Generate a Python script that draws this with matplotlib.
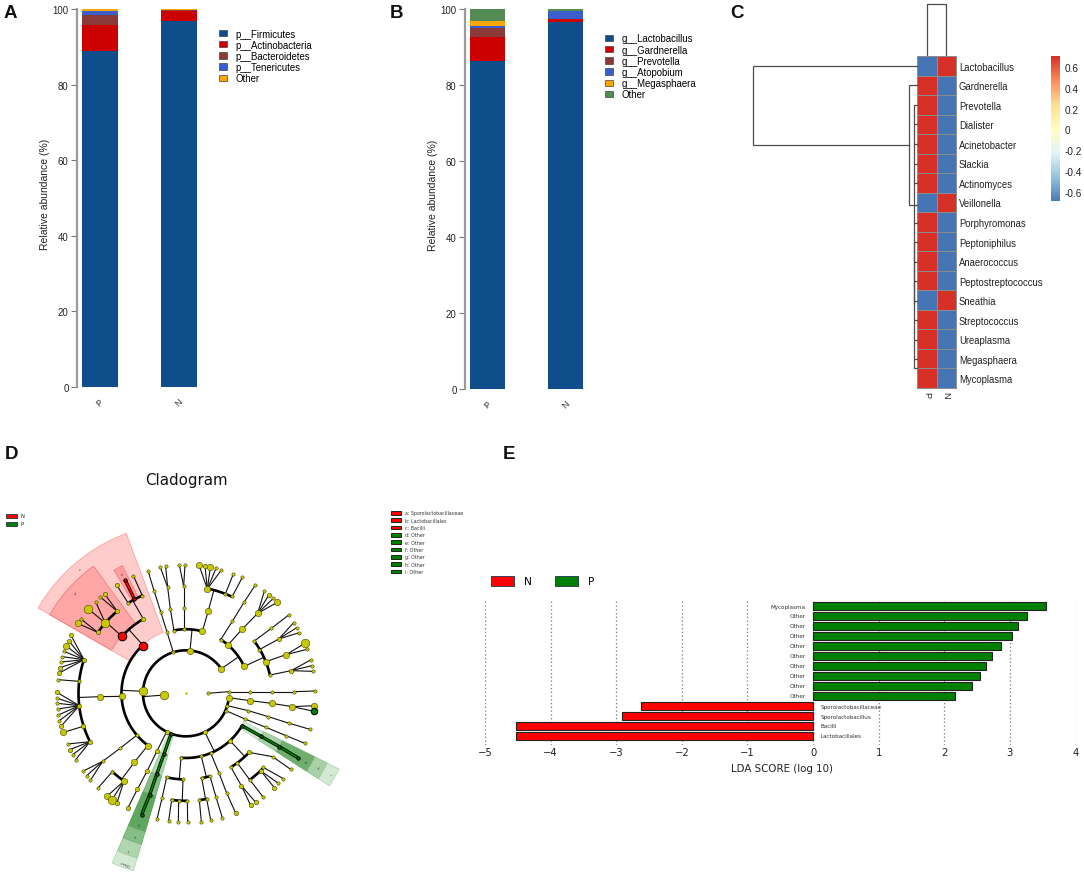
import math
import matplotlib
matplotlib.use("Agg")
import matplotlib.pyplot as plt
from matplotlib.colors import LinearSegmentedColormap
from matplotlib.patches import Patch, Rectangle

# ---------------- data ----------------
groups = ["P", "N"]
phylum_names = ["p__Firmicutes", "p__Actinobacteria", "p__Bacteroidetes", "p__Tenericutes", "Other"]
phylum_P = [89.0, 6.8, 2.7, 1.1, 0.4]
phylum_N = [96.7, 2.9, 0.05, 0.05, 0.3]
genus_names = ["g__Lactobacillus", "g__Gardnerella", "g__Prevotella", "g__Atopobium", "g__Megasphaera", "Other"]
genus_P = [86.3, 6.4, 2.3, 0.4, 1.35, 3.25]
genus_N = [96.5, 0.8, 0.05, 2.05, 0.05, 0.55]
stack_colors_A = ["#104E8B", "#CD0000", "#8B3A3A", "#3A5FCD", "#FFA500"]
stack_colors_B = ["#104E8B", "#CD0000", "#8B3A3A", "#3A5FCD", "#FFA500", "#548B54"]

heat_rows = ["Lactobacillus", "Gardnerella", "Prevotella", "Dialister", "Acinetobacter", "Slackia",
             "Actinomyces", "Veillonella", "Porphyromonas", "Peptoniphilus", "Anaerococcus",
             "Peptostreptococcus", "Sneathia", "Streptococcus", "Ureaplasma", "Megasphaera", "Mycoplasma"]
heat_P = [-0.707, 0.707, 0.707, 0.707, 0.707, 0.707, 0.707, -0.707, 0.707, 0.707, 0.707, 0.707,
          -0.707, 0.707, 0.707, 0.707, 0.707]
heat_N = [-v for v in heat_P]
cbar_ticks = [0.6, 0.4, 0.2, 0, -0.2, -0.4, -0.6]

lda_names = ["Lactobacillales", "Bacilli", "Sporolactobacillus", "Sporolactobacillaceae", "Other", "Other",
             "Other", "Other", "Other", "Other", "Other", "Other", "Other", "Mycoplasma"]
lda_scores = [-4.53, -4.53, -2.91, -2.62, 2.17, 2.42, 2.54, 2.63, 2.73, 2.86, 3.03, 3.12, 3.26, 3.55]

clade_left = ["N", "P"]
clade_right = ["a: Sporolactobacillaceae", "b: Lactobacillales", "c: Bacilli", "d: Other", "e: Other",
               "f: Other", "g: Other", "h: Other", "i: Other"]
clade_right_cols = ["r", "r", "r", "g", "g", "g", "g", "g", "g"]

# heat-map dendrogram (x, y pairs)
dend_left = [[(590, 200), (100, 200), (100, 437), (568, 437)],
             [(590, 258), (568, 258), (568, 618), (590, 618)],
             [(590, 318), (582, 318), (582, 1108), (590, 1108)],
             [(590, 376), (582, 376)], [(590, 435), (582, 435)], [(590, 494), (582, 494)], [(590, 553), (582, 553)],
             [(590, 671), (582, 671)], [(590, 730), (582, 730), (582, 915)],
             [(590, 789), (582, 789)], [(590, 847), (582, 847)], [(590, 905), (582, 905)],
             [(590, 964), (584, 964)], [(590, 1022), (584, 1022)], [(590, 1081), (584, 1081)]]
dend_top = [(620, 170), (620, 14), (678, 14), (678, 170)]


def N(x, y, s=0, c="y", kids=()):
    return dict(x=x, y=y, s=s, c=c, kids=list(kids))


def fan(x, y, s, pts):
    return N(x, y, s, "y", [N(a, b, t) for a, b, t in pts])


clade_tree = [
    N(493, 768, 3, "y", [
        N(663, 690, 2, "y", [
            N(733, 682, 2, "y", [
                N(810, 708, 0, "y", [fan(873, 695, 1, [(932, 663, 0), (936, 680, 0), (940, 697, 0)])]),
                N(798, 668, 2, "y", [fan(858, 647, 2, [(921, 631, 0), (915, 613, 3)])]),
                N(778, 632, 0, "y", [fan(836, 600, 1, [(898, 581, 0), (890, 566, 0), (881, 551, 0)])]),
                N(763, 606, 0, "y", [fan(814, 568, 0, [(866, 528, 0)])]),
            ]),
            N(684, 618, 2, "y", [N(727, 570, 2, "y", [fan(773, 523, 2, [(832, 490, 2), (820, 478, 0), (807, 467, 1), (793, 456, 0)])])]),
            N(662, 602, 0, "y", [N(697, 547, 0, "y", [fan(732, 490, 0, [(766, 438, 0)])])]),
        ]),
        N(570, 636, 2, "y", [
            N(607, 577, 2, "y", [N(625, 515, 2, "y", [
                fan(697, 472, 0, [(727, 415, 0)]),
                fan(676, 465, 0, [(700, 405, 0)]),
                fan(622, 450, 2, [(664, 393, 0), (648, 388, 0), (631, 385, 2), (615, 382, 1), (597, 378, 2)]),
            ])]),
            N(551, 570, 0, "y", [N(551, 507, 0, "y", [fan(551, 441, 0, [(555, 378, 0), (538, 378, 0)])])]),
            N(522, 575, 0, "y", [N(511, 510, 0, "y", [fan(503, 445, 0, [(497, 382, 0), (481, 385, 0)])])]),
        ]),
        N(520, 640, 0, "y", [N(501, 579, 0, "y", [N(482, 518, 0, "y", [fan(462, 455, 0, [(444, 395, 0)])])])]),
        N(430, 757, 3, "y", [
            N(430, 620, 3, "r", [
                N(430, 540, 1, "y", [
                    fan(427, 470, 0, [(400, 410, 0)]),
                    N(403, 480, 0, "r", [N(375, 422, 0, "r")]),
                    fan(385, 493, 0, [(350, 438, 1)]),
                ]),
                N(366, 592, 3, "r", [
                    fan(352, 517, 1, [(314, 465, 1), (301, 474, 0)]),
                    fan(316, 552, 3, [(287, 489, 0), (265, 510, 3)]),
                    fan(293, 580, 1, [(243, 540, 0), (233, 553, 2)]),
                ]),
            ]),
            N(365, 772, 2, "y", [N(300, 773, 2, "y", [
                fan(252, 662, 1, [(213, 589, 1), (206, 605, 1), (199, 621, 2), (192, 637, 0), (187, 653, 0), (184, 669, 0), (180, 686, 1), (176, 703, 1)]),
                fan(238, 727, 0, [(174, 722, 0)]),
                fan(238, 800, 1, [(171, 760, 1), (170, 777, 0), (172, 793, 0), (173, 810, 0), (175, 828, 0), (178, 845, 0), (183, 862, 1)]),
                fan(250, 862, 1, [(190, 880, 2)]),
                fan(270, 908, 1, [(203, 915, 0), (209, 932, 1), (218, 947, 0), (227, 962, 0)]),
            ])]),
            N(410, 889, 0, "y", [N(360, 928, 0, "y", [fan(308, 967, 0, [(250, 996, 0), (260, 1010, 0), (271, 1024, 0)])])]),
            N(443, 920, 2, "y", [N(403, 970, 2, "y", [
                fan(337, 998, 0, [(294, 1047, 0)]),
                fan(372, 1026, 2, [(322, 1071, 2), (336, 1082, 3), (351, 1091, 1)]),
            ])]),
        ]),
        N(500, 878, 1, "y", [N(471, 936, 1, "y", [N(442, 995, 1, "y", [fan(412, 1051, 1, [(383, 1108, 1)])])])]),
        N(513, 885, 0, "g", [N(492, 945, 0, "g", [N(470, 1006, 0, "g", [N(449, 1067, 0, "g", [N(425, 1127, 0, "g")])])])]),
        N(615, 880, 1, "y", [
            N(543, 956, 0, "y", [
                N(500, 1015, 0, "y", [fan(486, 1078, 0, [(471, 1140, 0)])]),
                N(549, 1021, 0, "y", [
                    fan(515, 1083, 0, [(506, 1145, 0)]),
                    fan(536, 1085, 0, [(535, 1150, 0)]),
                    fan(562, 1085, 0, [(563, 1150, 0)]),
                ]),
            ]),
            N(604, 952, 0, "y", [
                N(605, 1017, 0, "y", [fan(598, 1083, 0, [(604, 1148, 0)]), fan(620, 1080, 0, [(632, 1143, 0)])]),
                N(630, 1012, 0, "y", [fan(648, 1074, 0, [(667, 1136, 0)])]),
            ]),
            N(632, 942, 0, "y", [N(657, 1002, 0, "y", [fan(680, 1062, 0, [(707, 1122, 1)])])]),
            N(690, 905, 1, "y", [
                N(693, 985, 0, "y", [fan(724, 1040, 1, [(752, 1099, 1), (767, 1090, 1)])]),
                N(712, 972, 0, "y", [
                    fan(750, 1023, 0, [(790, 1075, 0)]),
                    fan(782, 995, 1, [(823, 1046, 1), (835, 1033, 0)]),
                    fan(790, 985, 0, [(850, 1019, 0)]),
                ]),
                N(746, 940, 1, "y", [fan(818, 953, 0, [(872, 991, 0)])]),
            ]),
            N(726, 860, 0, "g", [N(783, 892, 0, "g", [N(838, 923, 0, "g", [N(893, 956, 0, "g")])])]),
        ]),
        N(678, 815, 0, "y", [N(735, 840, 0, "y", [N(798, 865, 0, "y", [fan(858, 890, 0, [(915, 913, 0)])])])]),
        N(682, 800, 0, "y", [N(745, 815, 0, "y", [N(805, 833, 0, "y", [fan(868, 853, 0, [(930, 871, 0)])])])]),
        N(686, 776, 2, "y", [N(751, 785, 2, "y", [N(815, 793, 2, "y", [fan(877, 803, 2, [(942, 800, 2)]) ])])]),
    ]),
    N(623, 763, 0, "y", [N(686, 758, 0, "y", [N(751, 758, 0, "y", [N(816, 758, 0, "y", [fan(881, 758, 0, [(945, 756, 0)])])])])]),
]
extra_green_leaf = (942, 817)
clade_centre = (558, 763)

# sectors: (inner radius, outer radius, start angle, end angle, colour)
sectors_red = [(195, 512, 110.5, 150, "#FFCCCC", "#FF9F9F"),
               (258, 472, 126, 150, "#FFA6A6", "#F07C7C"),
               (322, 428, 116.5, 120.3, "#FF9C9C", "#F08080")]
sectors_green = [(130, 555, 246.5, 253.5, "#D4E9D4", "#B5D8B5"),
                 (193, 515, 246.5, 253.5, "#AFD6AF", "#98C898"),
                 (258, 472, 246.5, 253.5, "#85BE85", "#78B078"),
                 (322, 432, 246.5, 253.5, "#5FA65F", "#5FA65F"),
                 (193, 512, 327.2, 333.7, "#D4E9D4", "#B5D8B5"),
                 (258, 472, 327.2, 333.7, "#A6D0A6", "#98C898"),
                 (322, 430, 327.2, 333.7, "#70AE70", "#70AE70")]
sector_labels = [("c", 238, 390, -38), ("b", 224, 463, -38), ("a", 364, 405, -28),
                 ("Other", 377, 1270, 160), ("f", 388, 1228, 160), ("e", 405, 1188, 160), ("d", 418, 1150, 160),
                 ("i", 990, 1005, -60), ("h", 952, 985, -60), ("g", 915, 965, -60)]

# ---------------- layout ----------------
W, H = 1084, 878
plt.rcParams["font.family"] = ["Liberation Sans", "DejaVu Sans"]
fig = plt.figure(figsize=(W / 100, H / 100), dpi=100)


def rect(x0, y0, x1, y1):
    return [x0 / W, 1 - y1 / H, (x1 - x0) / W, (y1 - y0) / H]


def stacked(box, c0, c1, width, series_p, series_n, names, colors, legend_xy, label_x):
    ax = fig.add_axes(rect(*box))
    scale = c1 - c0
    ax.set_xlim((box[0] - c0) / scale, (box[2] - c0) / scale)
    ax.set_ylim(0, 100)
    bp = bn = 0
    for p, n, col in zip(series_p, series_n, colors):
        ax.bar([0, 1], [p, n], bottom=[bp, bn], width=width / scale, color=col, linewidth=0)
        bp += p
        bn += n
    for s in ("top", "right", "bottom"):
        ax.spines[s].set_visible(False)
    ax.spines["left"].set_color("#9A9A9A")
    ax.spines["left"].set_linewidth(1.6)
    ax.set_yticks([0, 20, 40, 60, 80, 100])
    ax.tick_params(axis="y", length=4, width=0.8, color="#777777", labelsize=6.9, labelcolor="#222222", pad=2)
    ax.set_xticks([0, 1])
    ax.set_xticklabels(groups, rotation=45, fontsize=6.5, color="#333333", ha="center")
    ax.tick_params(axis="x", length=0, pad=7)
    ax.set_ylabel("Relative abundance (%)", fontsize=7.5, color="#222222", labelpad=0)
    ax.yaxis.set_label_coords((label_x - box[0]) / (box[2] - box[0]), 0.513)
    handles = [Patch(facecolor=c, edgecolor="#444444", linewidth=0.5) for c in colors]
    ax.legend(handles, names, loc="upper left", frameon=False, fontsize=6.9,
              bbox_to_anchor=(legend_xy[0] / W, 1 - legend_xy[1] / H), bbox_transform=fig.transFigure,
              borderaxespad=0, borderpad=0, handlelength=0.85, handleheight=0.65, handletextpad=0.9,
              labelspacing=0.12)
    return ax


stacked((77, 10, 215, 388), 100, 179, 36, phylum_P, phylum_N, phylum_names, stack_colors_A, (218.5, 29.5), 50)
stacked((465, 10, 600, 390), 487.5, 565.5, 35, genus_P, genus_N, genus_names, stack_colors_B, (604.5, 34.5), 438)

# ---------- panel C ----------
cmap = LinearSegmentedColormap.from_list("rb", ["#4575B4", "#91BFDB", "#E0F3F8", "#FFFFBF", "#FEE090", "#FC8D59", "#D73027"])
axh = fig.add_axes(rect(917, 57, 956, 389))
axh.pcolormesh([[p, n] for p, n in zip(heat_P, heat_N)], cmap=cmap, vmin=-0.707, vmax=0.707,
               edgecolors="#8C8C8C", linewidth=0.7)
axh.set_ylim(len(heat_rows), 0)
axh.set_xticks([0.5, 1.5])
axh.set_xticklabels(groups, rotation=270, fontsize=6.6, color="#222222")
axh.yaxis.tick_right()
axh.set_yticks([i + 0.5 for i in range(len(heat_rows))])
axh.set_yticklabels(heat_rows, fontsize=6.85, color="#222222")
axh.tick_params(length=0, pad=2)
for s in axh.spines.values():
    s.set_color("#8C8C8C")
    s.set_linewidth(0.7)

axd = fig.add_axes(rect(720, 0, 917, 389))
axd.set_xlim(0, 591)
axd.set_ylim(1167, 0)
axd.axis("off")
for seg_pts in dend_left:
    axd.plot([p[0] for p in seg_pts], [p[1] for p in seg_pts], color="#4D4D4D", lw=0.9, solid_joinstyle="miter", clip_on=False)
axt = fig.add_axes(rect(917, 0, 956, 57))
axt.set_xlim(590, 707)
axt.set_ylim(171, 0)
axt.axis("off")
axt.plot([p[0] for p in dend_top], [p[1] for p in dend_top], color="#4D4D4D", lw=0.9)

axc = fig.add_axes(rect(1051, 57, 1060, 202))
grad = [[-0.687 + i * (0.705 + 0.687) / 199] for i in range(200)]
axc.pcolormesh([0, 1], [-0.687 + i * (0.705 + 0.687) / 200 for i in range(201)], grad, cmap=cmap, vmin=-0.707, vmax=0.707)
axc.set_ylim(-0.687, 0.705)
axc.set_xticks([])
axc.yaxis.tick_right()
axc.set_yticks(cbar_ticks)
axc.set_yticklabels([str(t) for t in cbar_ticks], fontsize=7.2, color="#222222")
axc.tick_params(length=0, pad=3)
for s in axc.spines.values():
    s.set_visible(False)

# ---------- panel D ----------
axk = fig.add_axes(rect(0, 440, 480, 878))
axk.set_xlim(0, 1440)
axk.set_ylim(1314, 0)
axk.axis("off")
cx, cy = clade_centre
NODE_DIAM = {0: 2.4, 1: 3.2, 2: 4.6, 3: 6.2}
NODE_COL = {"y": "#C8C800", "r": "#FF0000", "g": "#008000"}


def polar(r, a):
    return cx + r * math.cos(math.radians(a)), cy - r * math.sin(math.radians(a))


def rad(n):
    return math.hypot(n["x"] - cx, n["y"] - cy)


def ang(n):
    return math.degrees(math.atan2(cy - n["y"], n["x"] - cx))


def sector(r0, r1, a0, a1, col, edge):
    steps = [a0 + (a1 - a0) * i / 60 for i in range(61)]
    pts = [polar(r1, a) for a in steps] + [polar(r0, a) for a in reversed(steps)]
    axk.fill([p[0] for p in pts], [p[1] for p in pts], facecolor=col, edgecolor=edge, lw=0.6, zorder=1)


for s in sectors_red + sectors_green:
    sector(*s)


def seg(a, b, col):
    if col == "y":
        axk.plot([a[0], b[0]], [a[1], b[1]], color="#111111", lw=0.8, zorder=2, solid_capstyle="round")
    else:
        axk.plot([a[0], b[0]], [a[1], b[1]], color="black", lw=2.4, zorder=2.3, solid_capstyle="butt")
        axk.plot([a[0], b[0]], [a[1], b[1]], color=NODE_COL[col], lw=1.3, zorder=2.4, solid_capstyle="butt")


def draw(n):
    axk.plot(n["x"], n["y"], "o", ms=NODE_DIAM[n["s"]], mfc=NODE_COL[n["c"]], mec="#333300" if n["c"] == "y" else "black",
             mew=0.35 if n["c"] == "y" else 0.7, zorder=3)
    kids = n["kids"]
    if not kids:
        return
    if len(kids) > 1 and any(k["kids"] for k in kids):
        rr = sum(rad(k) for k in kids) / len(kids)
        angs = [ang(kids[0])]
        for k in kids[1:]:
            angs.append(angs[-1] + (ang(k) - angs[-1] + 180) % 360 - 180)
        steps = [angs[0] + (angs[-1] - angs[0]) * i / 120 for i in range(121)]
        pts = [polar(rr, a) for a in steps]
        axk.plot([p[0] for p in pts], [p[1] for p in pts], color="black", lw=1.9, zorder=2.1, solid_capstyle="round")
        seg((n["x"], n["y"]), polar(rr, ang(n)), "y")
    else:
        for k in kids:
            col = k["c"] if n["c"] == k["c"] and k["c"] != "y" else ("r" if (k["c"] == "r" and not k["kids"]) else "y")
            seg((n["x"], n["y"]), (k["x"], k["y"]), col)
    for k in kids:
        draw(k)


axk.plot(cx, cy, "o", ms=1.0, mfc=NODE_COL["y"], mec=NODE_COL["y"], zorder=3)
for t in clade_tree:
    draw(t)
axk.plot(*extra_green_leaf, "o", ms=4.6, mfc=NODE_COL["g"], mec="black", mew=0.8, zorder=3)
axk.plot([877, extra_green_leaf[0]], [803, extra_green_leaf[1]], color="#111111", lw=0.8, zorder=2)

for txt, x, y, rot in sector_labels:
    axk.text(x, y, txt, fontsize=2.8, rotation=rot, ha="center", va="center", color="#444444", family="DejaVu Sans", zorder=4)

axk.text(558, 123, "Cladogram", fontsize=10.8, ha="center", va="center", family="DejaVu Sans", color="#111111")
for i, name in enumerate(clade_left):
    y = 230 + 24 * i
    axk.add_patch(Rectangle((17, y - 6), 33, 12, facecolor=NODE_COL["r" if i == 0 else "g"], edgecolor="#334455", lw=0.7))
    axk.text(62, y, name, fontsize=3.8, va="center", family="DejaVu Sans", color="#222222")
for i, (name, c) in enumerate(zip(clade_right, clade_right_cols)):
    y = 222 + 21.9 * i
    axk.add_patch(Rectangle((1174, y - 5.5), 29, 11, facecolor=NODE_COL[c], edgecolor="#222222", lw=0.7))
    axk.text(1215, y, name, fontsize=3.4, va="center", family="DejaVu Sans", color="#333333")

# ---------- panel E ----------
axe = fig.add_axes(rect(485, 601, 1075.5, 746))
axe.set_xlim(-5, 4)
axe.set_ylim(-0.9, len(lda_scores) - 0.4)
axe.set_axisbelow(True)
axe.xaxis.grid(True, ls=(0, (1, 2)), color="#777777", lw=0.9)
axe.barh(range(len(lda_scores)), lda_scores, height=0.84, color=["#FF0000" if v < 0 else "#008000" for v in lda_scores],
         edgecolor="#222222", linewidth=0.8)
for i, (name, v) in enumerate(zip(lda_names, lda_scores)):
    if v > 0:
        axe.text(-0.11, i, name, ha="right", va="center", fontsize=4.1, family="DejaVu Sans", color="#333333")
    else:
        axe.text(0.12, i, name, ha="left", va="center", fontsize=4.1, family="DejaVu Sans", color="#333333")
for s in axe.spines.values():
    s.set_visible(False)
axe.set_yticks([])
axe.set_xticks(range(-5, 5))
axe.set_xticklabels(["\u2212" + str(-t) if t < 0 else str(t) for t in range(-5, 5)], fontsize=7.2, family="DejaVu Sans", color="#222222")
axe.tick_params(axis="x", length=0, pad=1.5)
axe.set_xlabel("LDA SCORE (log 10)", fontsize=7.4, family="DejaVu Sans", color="#222222")
axe.xaxis.set_label_coords(0.503, -0.124)
axe.legend([Patch(facecolor="#FF0000", edgecolor="#334455", linewidth=0.7), Patch(facecolor="#008000", edgecolor="#334455", linewidth=0.7)],
           ["N", "P"], ncol=2, loc="upper left", frameon=False,
           prop={"family": "DejaVu Sans", "size": 7.7},
           bbox_to_anchor=(491 / W, 1 - 577 / H), bbox_transform=fig.transFigure, borderaxespad=0, borderpad=0,
           handlelength=2.15, handleheight=1.0, handletextpad=0.9, columnspacing=2.2)

# ---------- panel letters ----------
for txt, x, y in [("A", 4, 14), ("B", 390, 13), ("C", 730, 13), ("D", 5, 455), ("E", 503, 455)]:
    fig.text(x / W, 1 - y / H, txt, fontsize=13.5, fontweight="bold", va="center", ha="left", color="#111111")

fig.savefig("out.png", dpi=100)
